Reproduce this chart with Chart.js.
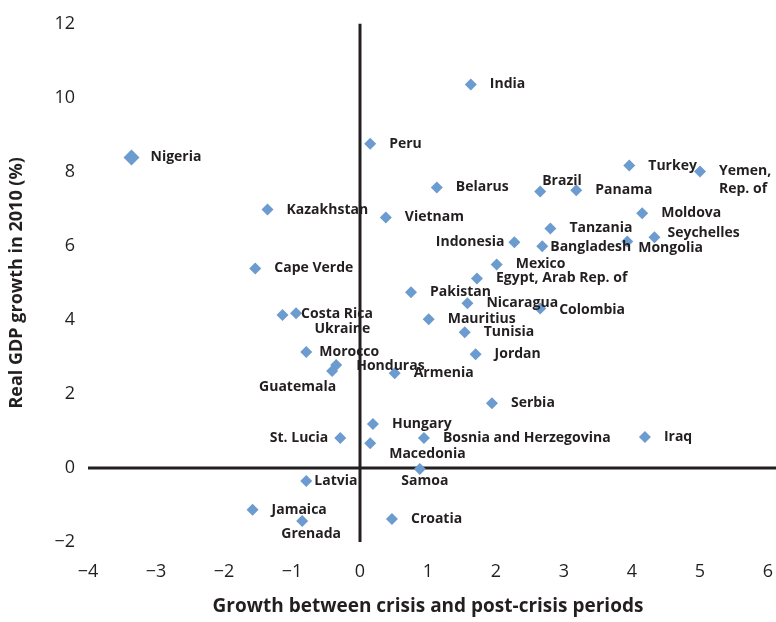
<!DOCTYPE html>
<html>
<head>
<meta charset="utf-8">
<script src="https://cdn.jsdelivr.net/npm/chart.js@4.4.1/dist/chart.umd.min.js"></script>
<style>
  html, body { margin: 0; padding: 0; background: #fff; }
  #wrap { width: 776px; height: 622px; }
</style>
</head>
<body>
<div id="wrap"><canvas id="scatter" width="776" height="622"></canvas></div>
<script>
// --- Data: growth between crisis and post-crisis periods vs real GDP growth 2010 ---
const countries = ['India', 'Peru', 'Nigeria', 'Belarus', 'Brazil', 'Panama', 'Turkey', 'Yemen, Rep. of',
  'Kazakhstan', 'Vietnam', 'Moldova', 'Tanzania', 'Indonesia', 'Bangladesh', 'Mongolia', 'Seychelles',
  'Mexico', 'Egypt, Arab Rep. of', 'Cape Verde', 'Pakistan', 'Nicaragua', 'Colombia', 'Mauritius', 'Tunisia',
  'Jordan', 'Costa Rica', 'Ukraine', 'Morocco', 'Honduras', 'Guatemala', 'Armenia', 'Serbia', 'Hungary',
  'St. Lucia', 'Macedonia', 'Bosnia and Herzegovina', 'Iraq', 'Samoa', 'Latvia', 'Jamaica', 'Grenada', 'Croatia'];
const crisisGrowth = [1.63, 0.15, -3.36, 1.13, 2.65, 3.18, 3.96, 5.0,
  -1.36, 0.38, 4.15, 2.8, 2.27, 2.68, 3.93, 4.33,
  2.01, 1.72, -1.54, 0.75, 1.58, 2.65, 1.01, 1.54,
  1.7, -0.94, -1.14, -0.79, -0.35, -0.41, 0.51, 1.94, 0.19,
  -0.29, 0.15, 0.94, 4.19, 0.88, -0.79, -1.58, -0.85, 0.47];
const gdpGrowth2010 = [10.36, 8.76, 8.39, 7.58, 7.47, 7.5, 8.17, 8.01,
  6.98, 6.77, 6.88, 6.47, 6.1, 5.99, 6.12, 6.23,
  5.5, 5.12, 5.39, 4.75, 4.45, 4.31, 4.02, 3.67,
  3.07, 4.18, 4.13, 3.13, 2.78, 2.62, 2.56, 1.75, 1.19,
  0.81, 0.67, 0.81, 0.84, -0.03, -0.35, -1.13, -1.43, -1.38];
const xTicks = [-4, -3, -2, -1, 0, 1, 2, 3, 4, 5, 6];
const yTicks = [-2, 0, 2, 4, 6, 8, 10, 12];

// label placement next to each marker: [dx, dy, align]
const labelPos = {
  'Brazil': [2, -10, 'left'], 'Indonesia': [-10, 0, 'right'], 'Bangladesh': [8, 1, 'left'],
  'Mongolia': [11, 7, 'left'], 'Seychelles': [13, -4, 'left'], 'Colombia': [19, 2, 'left'],
  'Costa Rica': [5, 1, 'left'], 'Ukraine': [32, 14, 'left'], 'Morocco': [13, 0, 'left'],
  'Honduras': [20, 1, 'left'], 'Guatemala': [4, 16, 'right'], 'St. Lucia': [-12, 0, 'right'],
  'Macedonia': [19, 11, 'left'], 'Samoa': [5, 12, 'center'], 'Latvia': [8, 0, 'left'],
  'Grenada': [9, 13, 'center']
};

const ink = '#231f20';
const minus = v => String(v).replace('-', '\u2212');

// --- Crosshair at x=0 / y=0 and point labels ---
const overlay = {
  id: 'overlay',
  beforeDatasetsDraw(chart) {
    const c = chart.ctx, x = chart.scales.x, y = chart.scales.y;
    c.save();
    c.strokeStyle = ink;
    c.lineWidth = 3;
    c.beginPath();
    c.moveTo(x.getPixelForValue(0), chart.chartArea.top);
    c.lineTo(x.getPixelForValue(0), chart.chartArea.bottom);
    c.moveTo(chart.chartArea.left, y.getPixelForValue(0));
    c.lineTo(chart.width, y.getPixelForValue(0));
    c.stroke();
    c.restore();
  },
  afterDatasetsDraw(chart) {
    const c = chart.ctx;
    const meta = chart.getDatasetMeta(0);
    c.save();
    c.font = 'bold 14px "Open Sans"';
    c.fillStyle = ink;
    c.textBaseline = 'middle';
    meta.data.forEach((pt, i) => {
      const name = countries[i];
      const [dx, dy, align] = labelPos[name] || [19, 0, 'left'];
      c.textAlign = align;
      if (name === 'Yemen, Rep. of') {
        c.fillText('Yemen,', pt.x + dx, pt.y + dy);
        c.fillText('Rep. of', pt.x + dx, pt.y + dy + 18);
      } else {
        c.fillText(name, pt.x + dx, pt.y + dy);
      }
    });
    c.restore();
  }
};

const ctx = document.getElementById('scatter').getContext('2d');
new Chart(ctx, {
  type: 'scatter',
  data: {
    datasets: [{
      data: countries.map((n, i) => ({ x: crisisGrowth[i], y: gdpGrowth2010[i] })),
      pointStyle: 'rectRot',
      pointRadius: countries.map(n => n === 'Nigeria' ? 8 : 6),
      backgroundColor: '#6b9bcf',
      borderWidth: 0
    }]
  },
  options: {
    responsive: false,
    animation: false,
    layout: { padding: { top: 21, right: 5, left: 6, bottom: 0 } },
    plugins: { legend: { display: false }, tooltip: { enabled: false } },
    scales: {
      x: {
        type: 'linear', min: -4, max: 6,
        afterBuildTicks: s => { s.ticks = xTicks.map(v => ({ value: v })); },
        afterFit: s => { s.height = 80; s.paddingRight = 0; s.paddingLeft = 0; },
        grid: { display: false, drawTicks: false },
        border: { display: false },
        ticks: { padding: 19, color: ink, font: { family: 'Open Sans', size: 18 }, callback: minus },
        title: { display: true, text: 'Growth between crisis and post-crisis periods', color: ink,
          font: { family: 'Open Sans', size: 19, weight: 'bold' }, padding: { top: 12 } }
      },
      y: {
        type: 'linear', min: -2, max: 12,
        afterBuildTicks: s => { s.ticks = yTicks.map(v => ({ value: v })); },
        afterFit: s => { s.width = 82; },
        grid: { display: false, drawTicks: false },
        border: { display: false },
        ticks: { padding: 13, color: ink, font: { family: 'Open Sans', size: 18 }, callback: minus },
        title: { display: true, text: 'Real GDP growth in 2010 (%)', color: ink,
          font: { family: 'Open Sans', size: 18, weight: 'bold' }, padding: 0 }
      }
    }
  },
  plugins: [overlay]
});
</script>
</body>
</html>
